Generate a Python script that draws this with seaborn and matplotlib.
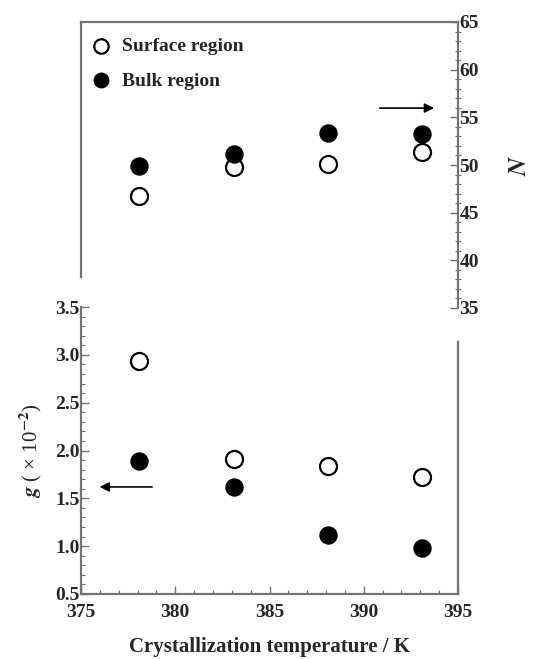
import matplotlib
matplotlib.use("Agg")
import matplotlib.pyplot as plt
import numpy as np
import pandas as pd
import seaborn as sns
from matplotlib.ticker import MultipleLocator

# Data
temps = [378.1, 383.1, 388.1, 393.1]
n_surface = [46.8, 49.8, 50.1, 51.4]
n_bulk = [49.9, 51.2, 53.4, 53.3]
g_surface = [2.94, 1.91, 1.84, 1.72]
g_bulk = [1.89, 1.62, 1.12, 0.98]

sns.set_style("ticks")
plt.rcParams["font.family"] = ["Liberation Serif", "DejaVu Serif"]
plt.rcParams["font.weight"] = "bold"
plt.rcParams["mathtext.fontset"] = "stix"

spine_col = "0.45"

fig = plt.figure(figsize=(5.4, 6.59), dpi=100)
W, H = 540, 659
ax_top = fig.add_axes([81 / W, (H - 308) / H, 377 / W, 286 / H])
ax_bot = fig.add_axes([81 / W, (H - 594) / H, 377 / W, 287 / H])

df_n = pd.DataFrame({"T": temps * 2, "N": n_surface + n_bulk,
                     "region": ["Surface region"] * 4 + ["Bulk region"] * 4})
df_g = pd.DataFrame({"T": temps * 2, "g": g_surface + g_bulk,
                     "region": ["Surface region"] * 4 + ["Bulk region"] * 4})

def draw(ax, df, ycol, legend):
    sub = df[df["region"] == "Surface region"]
    sns.scatterplot(data=sub, x="T", y=ycol, ax=ax, s=150, marker="o",
                    facecolor="white", edgecolor="black", linewidth=1.6,
                    label="Surface region" if legend else None, zorder=3)
    sub = df[df["region"] == "Bulk region"]
    sns.scatterplot(data=sub, x="T", y=ycol, ax=ax, s=150, marker="o",
                    color="black", edgecolor="black", linewidth=1.0,
                    label="Bulk region" if legend else None, zorder=3)

draw(ax_top, df_n, "N", True)
draw(ax_bot, df_g, "g", False)

# Top axes: N on the right
ax_top.set_xlim(375, 395)
ax_top.set_ylim(35, 65)
ax_top.patch.set_alpha(0)
ax_top.spines["bottom"].set_visible(False)
ax_top.spines["left"].set_bounds(38.3, 65)
for s in ["top", "left", "right"]:
    ax_top.spines[s].set_color(spine_col)
    ax_top.spines[s].set_linewidth(1.6)
ax_top.set_xticks([])
ax_top.yaxis.tick_right()
ax_top.yaxis.set_label_position("right")
ax_top.yaxis.set_major_locator(MultipleLocator(5))
ax_top.yaxis.set_minor_locator(MultipleLocator(1))
ax_top.tick_params(axis="y", which="major", direction="in", length=6,
                   width=1, color=spine_col, pad=1, labelsize=14)
ax_top.tick_params(axis="y", which="minor", direction="inout", length=4,
                   width=0.8, color=spine_col)
ax_top.set_xlabel("")
ax_top.set_ylabel("$N$", fontsize=18, labelpad=22)

leg = ax_top.legend(loc="upper left", bbox_to_anchor=(-0.005, 0.965),
                    frameon=False, fontsize=14,
                    handletextpad=0.3, borderaxespad=0.0, labelspacing=0.85,
                    borderpad=0.3, markerscale=0.85, handlelength=1.6)
for t in leg.get_texts():
    t.set_fontweight("bold")

ax_top.annotate("", xy=(0.944, 0.699), xytext=(0.785, 0.699),
                xycoords="axes fraction",
                arrowprops=dict(arrowstyle="-|>", color="black", lw=1.2,
                                mutation_scale=14))

# Bottom axes: g on the left
ax_bot.set_xlim(375, 395)
ax_bot.set_ylim(0.5, 3.5)
ax_bot.patch.set_alpha(0)
ax_bot.spines["top"].set_visible(False)
ax_bot.spines["right"].set_visible(True)
ax_bot.spines["right"].set_bounds(0.5, 3.13)
for s in ["bottom", "left", "right"]:
    ax_bot.spines[s].set_color(spine_col)
    ax_bot.spines[s].set_linewidth(1.6)
ax_bot.xaxis.set_major_locator(MultipleLocator(5))
ax_bot.xaxis.set_minor_locator(MultipleLocator(1))
ax_bot.yaxis.set_major_locator(MultipleLocator(0.5))
ax_bot.yaxis.set_minor_locator(MultipleLocator(0.1))
ax_bot.set_yticks(np.arange(0.5, 3.51, 0.5))
ax_bot.set_yticklabels([f"{v:.1f}" for v in np.arange(0.5, 3.51, 0.5)])
ax_bot.tick_params(which="major", direction="in", length=6, width=1,
                   color=spine_col, labelsize=14, pad=1)
ax_bot.tick_params(axis="x", which="major", pad=7)
ax_bot.tick_params(which="minor", direction="in", length=3, width=0.8,
                   color=spine_col)
ax_bot.tick_params(axis="y", right=False)
ax_bot.set_xlabel("Crystallization temperature / K", fontsize=15,
                  fontweight="bold", labelpad=12)
ax_bot.set_ylabel("$g$ ( × 10$^{-2}$)", fontsize=15, labelpad=8)

ax_bot.annotate("", xy=(0.042, 0.373), xytext=(0.196, 0.373),
                xycoords="axes fraction",
                arrowprops=dict(arrowstyle="-|>", color="black", lw=1.2,
                                mutation_scale=14))

fig.savefig("out.png", dpi=100)
